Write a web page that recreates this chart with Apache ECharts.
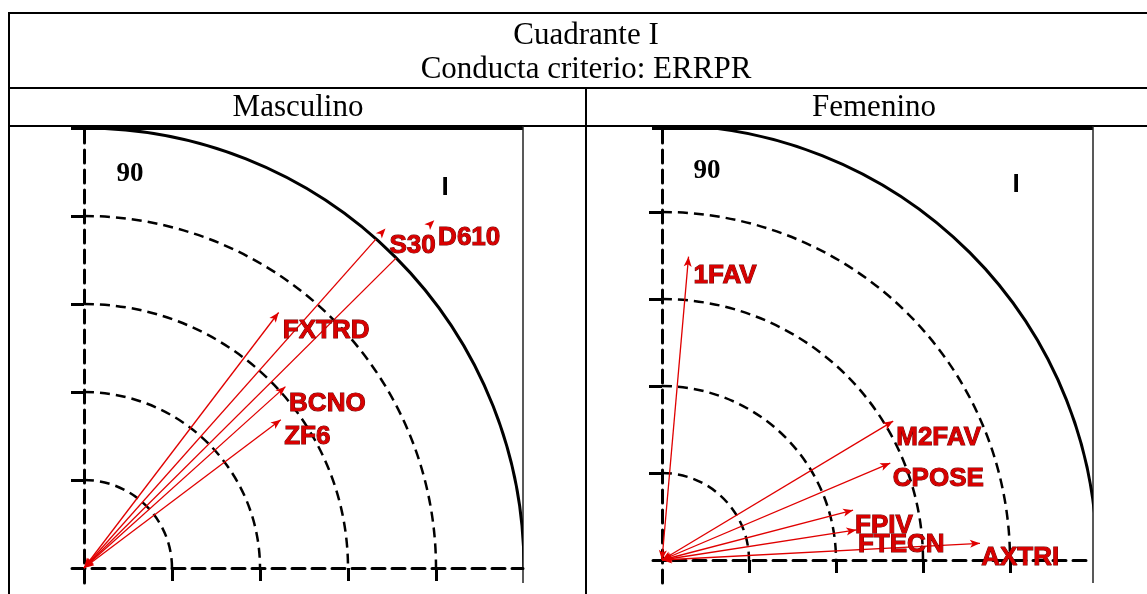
<!DOCTYPE html>
<html><head><meta charset="utf-8">
<script src="https://cdn.jsdelivr.net/npm/echarts@6/dist/echarts.min.js"></script>
<style>html,body{margin:0;padding:0;background:#fff}#c{width:1147px;height:594px}</style>
</head><body><div id="c"></div>
<script>
// ---- data ----
const titleLines = ['Cuadrante I', 'Conducta criterio: ERRPR'];
const panelTitles = ['Masculino', 'Femenino'];
const angleLabel = '90';
const quadrantLabel = 'I';
const ringRadii = [1, 2, 3, 4];
const outerRadius = [5];
const tickValues = [1, 2, 3, 4];
const mascNames = ['D610', 'S30', 'FXTRD', 'BCNO', 'ZF6'];
const mascLengths = [5.61, 5.16, 3.65, 3.08, 2.80];
const mascAngles = [44.8, 48.4, 52.7, 42.0, 37.0];
const femNames = ['1FAV', 'M2FAV', 'CPOSE', 'FPIV', 'FTECN', 'AXTRI'];
const femLengths = [3.50, 3.10, 2.85, 2.27, 2.26, 3.66];
const femAngles = [85.0, 31.0, 23.0, 14.6, 8.8, 3.0];

// ---- layout ----
const panels = [
  { origin: [84, 568], unit: 88, frame: [72, 128, 523, 583], names: mascNames, lengths: mascLengths, angles: mascAngles, ninety: [130, 174], roman: [445, 188] },
  { origin: [662, 560], unit: 87, frame: [653, 128, 1093, 583], names: femNames, lengths: femLengths, angles: femAngles, ninety: [707, 171], roman: [1016, 185] }
];
const RED = '#e00000';
const grid = [], xAxis = [], yAxis = [], polar = [], angleAxis = [], radiusAxis = [], series = [];
const axisLineStyle = { color: '#000', width: 3, type: [13, 7] };

panels.forEach((p, i) => {
  const [fx0, fy0, fx1, fy1] = p.frame;
  const [ox, oy] = p.origin;
  grid.push({ left: fx0, top: fy0, width: fx1 - fx0, height: fy1 - fy0, containLabel: false });
  xAxis.push({ gridIndex: i, type: 'value', min: (fx0 - ox) / p.unit, max: (fx1 - ox) / p.unit,
    axisLine: { onZero: true, lineStyle: axisLineStyle },
    axisTick: { show: true, length: 13, customValues: tickValues, lineStyle: { color: '#000', width: 3 } },
    axisLabel: { show: false }, splitLine: { show: false } });
  yAxis.push({ gridIndex: i, type: 'value', min: -(fy1 - oy) / p.unit, max: (oy - fy0) / p.unit,
    axisLine: { onZero: true, lineStyle: axisLineStyle },
    axisTick: { show: true, length: 13, customValues: tickValues, lineStyle: { color: '#000', width: 3 } },
    axisLabel: { show: false }, splitLine: { show: false } });
  polar.push({ center: [ox, oy], radius: outerRadius[0] * p.unit });
  angleAxis.push({ polarIndex: i, type: 'value', min: 0, max: 360, startAngle: 0, clockwise: false, show: false });
  radiusAxis.push({ polarIndex: i, type: 'value', min: 0, max: outerRadius[0], show: false });

  const ringRender = (dash, width) => (params, api) => {
    const c = api.coord([0, 0]);
    const e = api.coord([api.value(0), 0]);
    return { type: 'arc', shape: { cx: c[0], cy: c[1], r: e[0] - c[0], startAngle: -Math.PI / 2, endAngle: 0, clockwise: true },
      style: { fill: 'none', stroke: '#000', lineWidth: width, lineDash: dash } };
  };
  series.push({ type: 'custom', xAxisIndex: i, yAxisIndex: i, clip: true, silent: true,
    data: ringRadii.map(r => [r, 0]), encode: { x: 0, y: 1 }, renderItem: ringRender([10, 6], 2.5) });
  series.push({ type: 'custom', xAxisIndex: i, yAxisIndex: i, clip: true, silent: true,
    data: outerRadius.map(r => [r, 0]), encode: { x: 0, y: 1 }, renderItem: ringRender(null, 3) });

  p.names.forEach((name, k) => {
    const a = p.angles[k], m = p.lengths[k];
    series.push({
      type: 'line', coordinateSystem: 'polar', polarIndex: i, silent: true, z: 5, clip: false,
      lineStyle: { color: RED, width: 1.3 }, itemStyle: { color: RED },
      data: [
        { value: [0, a], symbol: 'arrow', symbolRotate: a + 90, symbolSize: [6, 10], label: { show: false } },
        { value: [m, a], symbol: 'arrow', symbolRotate: a - 90, symbolSize: [6, 10],
          label: { show: true, formatter: name, position: 'right', distance: 0, offset: [1, 14],
            fontFamily: 'Liberation Sans', fontWeight: 'bold', fontSize: 26, color: '#d80000',
            textBorderColor: '#6a0000', textBorderWidth: 1 } }
      ]
    });
  });
});

const graphic = [
  { type: 'rect', shape: { x: 9, y: 13, width: 1150, height: 600 }, style: { fill: 'none', stroke: '#000', lineWidth: 2 } },
  { type: 'line', shape: { x1: 9, y1: 88, x2: 1150, y2: 88 }, style: { stroke: '#000', lineWidth: 2 } },
  { type: 'line', shape: { x1: 9, y1: 126, x2: 1150, y2: 126 }, style: { stroke: '#000', lineWidth: 2 } },
  { type: 'line', shape: { x1: 586, y1: 88, x2: 586, y2: 600 }, style: { stroke: '#000', lineWidth: 2 } },
  { type: 'text', x: 586, y: 36, style: { text: titleLines[0], font: '31px "Liberation Serif"', fill: '#000', textAlign: 'center', verticalAlign: 'middle' } },
  { type: 'text', x: 586, y: 70, style: { text: titleLines[1], font: '31px "Liberation Serif"', fill: '#000', textAlign: 'center', verticalAlign: 'middle' } },
  { type: 'text', x: 298, y: 108, style: { text: panelTitles[0], font: '31px "Liberation Serif"', fill: '#000', textAlign: 'center', verticalAlign: 'middle' } },
  { type: 'text', x: 874, y: 108, style: { text: panelTitles[1], font: '31px "Liberation Serif"', fill: '#000', textAlign: 'center', verticalAlign: 'middle' } }
];
panels.forEach(p => {
  const [fx0, fy0, fx1, fy1] = p.frame;
  graphic.push({ type: 'rect', shape: { x: fx0 - 1, y: 126, width: fx1 - fx0 + 1, height: 4 }, style: { fill: '#000' } });
  graphic.push({ type: 'line', shape: { x1: fx1, y1: 126, x2: fx1, y2: fy1 }, style: { stroke: '#222', lineWidth: 1.5 } });
  graphic.push({ type: 'text', x: p.ninety[0], y: p.ninety[1], style: { text: angleLabel, font: 'bold 27px "Liberation Serif"', fill: '#000', textAlign: 'center', verticalAlign: 'middle' } });
  graphic.push({ type: 'text', x: p.roman[0], y: p.roman[1], style: { text: quadrantLabel, font: 'bold 26px "Liberation Sans"', fill: '#000', textAlign: 'center', verticalAlign: 'middle' } });
});

const chart = echarts.init(document.getElementById('c'), null, { renderer: 'canvas' });
chart.setOption({ animation: false, backgroundColor: '#fff', grid, xAxis, yAxis, polar, angleAxis, radiusAxis, series, graphic });
</script></body></html>
